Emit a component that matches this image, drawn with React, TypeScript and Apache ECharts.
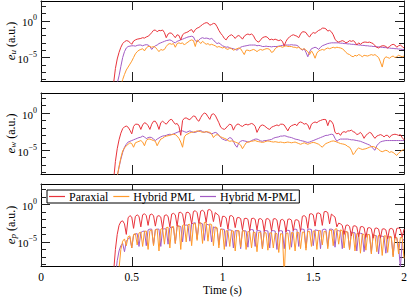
import React, { useEffect, useRef } from 'react';
import * as echarts from 'echarts';

// sampling grid (s)
const time: number[] = Array.from({ length: 161 }, (_, i) => Math.round((0.4 + i * 0.01) * 100) / 100);

// values are log10 of the error (a.u.)
const euParaxial = [
  -8.5, -6.5, -5.2, -4.3, -3.6, -3.1, -2.85, -2.7, -2.75, -2.95,
  -3.2, -2.75, -2.6, -2.5, -2.45, -2.4, -2.3, -2.35, -2.2, -2.1,
  -1.9, -1.6, -1.3, -1.25, -1.5, -1.3, -1.35, -1.25, -1.6, -2.3,
  -1.8, -1.65, -1.7, -2.0, -2.3, -1.9, -2.0, -2.6, -1.9, -1.7,
  -1.6, -1.5, -1.3, -1.2, -1.6, -1.2, -1.0, -0.9, -0.7, -0.5,
  -0.35, -0.25, -0.3, -0.6, -0.5, -0.35, -0.4, -0.8, -1.3, -1.7,
  -2.0, -2.4, -2.6, -2.2, -2.0, -1.9, -2.1, -2.4, -2.1, -2.0,
  -2.2, -2.5, -2.1, -1.9, -1.8, -1.9, -1.8, -2.0, -2.5, -2.8,
  -2.9, -2.6, -2.3, -2.2, -2.15, -2.3, -2.6, -2.5, -2.6, -2.5,
  -2.6, -2.7, -2.6, -2.8, -3.4, -2.8, -2.4, -2.2, -2.0, -1.9,
  -2.0, -2.1, -2.3, -1.8, -1.5, -1.5, -1.6, -2.0, -2.2, -1.8,
  -1.6, -1.7, -1.5, -1.3, -1.2, -1.0, -1.0, -1.1, -1.4, -1.3,
  -1.5, -1.9, -2.5, -2.8, -2.9, -2.8, -2.7, -2.8, -3.0, -2.9,
  -2.7, -2.8, -2.7, -2.9, -3.3, -3.0, -3.2, -3.0, -2.9, -2.9,
  -2.95, -2.9, -3.0, -3.1, -3.4, -3.6, -3.7, -3.5, -3.4, -3.4,
  -3.5, -3.7, -3.5, -3.3, -3.2, -3.3, -3.6, -3.4, -3.3, -3.5,
  -3.7,
];
const euPml = [
  -10, -10, -10, -9.5, -8.8, -8.0, -7.3, -6.7, -6.3, -5.9,
  -5.5, -5.0, -4.5, -4.2, -4.0, -3.9, -3.8, -4.1, -3.7, -3.5,
  -3.5, -3.6, -3.5, -3.6, -3.9, -4.2, -3.9, -4.0, -3.9, -3.5,
  -3.2, -3.1, -3.2, -3.1, -3.6, -3.1, -3.0, -3.1, -3.0, -3.3,
  -3.05, -2.9, -2.7, -2.6, -2.7, -3.5, -2.6, -2.8, -3.1, -2.8,
  -3.0, -3.2, -3.1, -3.3, -3.2, -3.3, -3.4, -3.6, -3.5, -3.6,
  -3.7, -3.6, -3.8, -3.9, -3.7, -3.8, -4.0, -3.9, -3.8, -3.7,
  -3.8, -4.2, -4.6, -4.0, -4.0, -4.1, -4.0, -3.9, -4.0, -4.2,
  -4.0, -3.9, -4.0, -3.9, -3.8, -3.8, -3.9, -4.3, -4.2, -3.8,
  -3.6, -3.5, -3.5, -3.6, -3.5, -3.4, -3.5, -3.5, -3.5, -3.6,
  -3.6, -3.7, -3.6, -3.8, -3.9, -3.8, -4.0, -4.2, -4.6, -4.1,
  -4.5, -5.1, -4.4, -4.1, -4.0, -3.9, -4.0, -3.8, -3.7, -3.8,
  -3.7, -3.6, -3.7, -3.6, -3.65, -3.7, -3.8, -4.0, -4.3, -4.5,
  -4.6, -4.8, -4.9, -4.7, -4.8, -4.6, -4.7, -4.9, -4.7, -4.75,
  -4.8, -4.7, -4.6, -4.7, -4.6, -4.8, -5.0, -5.6, -6.3, -5.2,
  -4.9, -5.0, -5.1, -4.9, -4.8, -5.0, -4.9, -4.7, -4.8, -4.9,
  -4.8,
];
const euMpml = [
  -9.5, -9, -8.5, -7.5, -6.2, -5.0, -4.2, -3.7, -3.5, -3.45,
  -3.4, -3.4, -3.45, -3.35, -3.3, -3.3, -3.4, -3.3, -3.25, -3.3,
  -3.5, -3.9, -3.6, -3.4, -3.3, -3.1, -3.0, -2.9, -2.8, -2.7,
  -2.65, -2.6, -2.7, -2.9, -3.0, -2.8, -2.7, -2.6, -2.5, -2.4,
  -2.3, -2.2, -2.15, -2.1, -2.2, -2.7, -2.9, -2.6, -2.4, -2.3,
  -2.4, -2.35, -2.4, -2.5, -2.4, -2.6, -2.9, -3.1, -3.0, -3.2,
  -3.4, -3.5, -3.6, -3.55, -3.7, -3.75, -3.8, -3.9, -4.0, -3.8,
  -3.6, -3.5, -3.45, -3.4, -3.35, -3.3, -3.3, -3.3, -3.3, -3.4,
  -3.35, -3.4, -3.5, -3.5, -3.45, -3.5, -3.5, -3.55, -3.5, -3.5,
  -3.5, -3.45, -3.4, -3.35, -3.3, -3.3, -3.3, -3.3, -3.25, -3.3,
  -3.3, -3.35, -3.5, -3.8, -4.0, -3.8, -4.3, -4.9, -4.2, -3.8,
  -3.7, -3.6, -3.7, -3.9, -3.6, -3.4, -3.3, -3.2, -3.1, -3.05,
  -3.0, -3.0, -3.0, -3.0, -3.0, -3.05, -3.05, -3.1, -3.1, -3.15,
  -3.15, -3.2, -3.2, -3.25, -3.25, -3.3, -3.3, -3.35, -3.35, -3.4,
  -3.4, -3.45, -3.45, -3.5, -3.5, -3.55, -3.55, -3.6, -3.6, -3.65,
  -3.65, -3.7, -3.7, -3.75, -3.75, -3.8, -3.8, -3.85, -3.85, -3.9,
  -3.9,
];

const ewParaxial = [
  -9, -6.5, -4.8, -3.6, -2.7, -2.1, -1.85, -1.75, -1.9, -2.3,
  -2.8, -1.8, -1.5, -1.5, -1.6, -2.2, -1.6, -1.3, -1.4, -1.7,
  -2.2, -1.5, -1.1, -1.1, -1.5, -2.2, -1.3, -1.1, -1.3, -1.5,
  -1.2, -0.9, -0.85, -1.2, -1.5, -1.4, -1.8, -3.0, -1.0, -0.7,
  -0.65, -0.8, -0.9, -0.6, -0.4, -0.45, -0.9, -1.1, -0.6, -0.2,
  0.0, -0.1, -0.5, -0.85, -0.2, -0.1, -0.3, -0.8, -1.3, -1.9,
  -2.1, -2.2, -2.0, -1.7, -1.5, -1.6, -2.3, -1.8, -1.5, -1.5,
  -1.7, -1.8, -1.6, -1.5, -1.6, -1.5, -1.4, -1.5, -1.8, -2.6,
  -2.1, -1.7, -1.6, -1.7, -1.9, -2.1, -2.2, -1.9, -1.8, -1.7,
  -1.6, -1.7, -1.5, -1.5, -1.6, -2.0, -2.4, -1.9, -1.7, -1.6,
  -1.5, -1.7, -1.3, -1.2, -1.3, -1.5, -1.4, -1.6, -2.2, -1.5,
  -1.3, -1.2, -1.3, -1.1, -1.0, -0.9, -0.85, -0.9, -1.7, -1.0,
  -1.1, -1.5, -2.6, -2.8, -2.7, -3.0, -2.6, -2.5, -2.6, -2.4,
  -2.4, -2.3, -2.5, -2.6, -2.9, -2.8, -2.6, -2.9, -3.4, -3.0,
  -2.8, -2.6, -2.7, -3.1, -3.4, -3.1, -3.0, -2.9, -3.0, -3.2,
  -3.0, -3.0, -3.3, -3.0, -2.9, -2.85, -2.9, -3.0, -2.9, -3.3,
  -3.6,
];
const ewPml = [
  -10, -9.5, -8.5, -7.2, -6.0, -5.1, -4.7, -4.4, -4.2, -4.0,
  -4.1, -4.6, -4.0, -3.9, -3.8, -3.7, -3.9, -4.4, -3.7, -3.5,
  -3.5, -3.6, -3.7, -3.8, -4.4, -3.9, -3.5, -3.4, -3.2, -3.1,
  -3.05, -3.0, -2.9, -2.85, -2.9, -3.1, -3.4, -3.9, -4.6, -3.2,
  -2.9, -2.8, -2.65, -2.6, -2.55, -2.5, -2.4, -2.45, -2.5, -2.6,
  -2.55, -2.5, -2.55, -2.6, -2.8, -3.3, -3.0, -2.9, -3.0, -3.2,
  -3.3, -3.4, -3.5, -3.7, -3.8, -3.75, -3.8, -3.9, -4.0, -4.1,
  -4.3, -4.8, -4.4, -4.0, -3.9, -3.85, -3.8, -3.75, -3.7, -3.8,
  -3.85, -3.9, -3.95, -3.9, -3.8, -3.75, -3.8, -3.85, -3.9, -3.85,
  -3.9, -3.95, -3.9, -3.95, -4.0, -3.95, -3.9, -3.95, -4.0, -3.95,
  -3.9, -4.0, -4.1, -4.2, -4.1, -4.0, -4.1, -4.2, -4.1, -4.0,
  -3.95, -4.0, -4.1, -4.2, -4.4, -4.6, -4.3, -4.1, -4.0, -3.9,
  -3.8, -3.75, -3.8, -3.9, -4.0, -4.1, -4.15, -4.2, -4.3, -4.5,
  -4.6, -5.0, -5.6, -5.3, -4.9, -4.7, -4.8, -4.9, -4.85, -4.8,
  -4.7, -4.6, -4.5, -4.5, -4.6, -4.7, -4.9, -5.1, -5.2, -5.1,
  -5.0, -5.1, -5.3, -5.2, -5.3, -5.5, -5.7, -5.4, -5.2, -5.0,
  -4.9,
];
const ewMpml = [
  -10, -9.5, -8.5, -7.3, -6.2, -5.3, -4.6, -4.2, -3.9, -3.8,
  -3.7, -3.6, -3.5, -3.4, -3.3, -3.25, -3.1, -3.2, -3.45, -3.3,
  -3.25, -3.3, -3.5, -3.7, -3.5, -3.35, -3.2, -3.1, -3.05, -3.0,
  -2.9, -2.85, -2.9, -2.8, -2.7, -2.6, -2.5, -2.4, -2.4, -2.5,
  -2.6, -2.5, -2.4, -2.5, -2.6, -2.6, -2.5, -2.4, -2.35, -2.5,
  -2.6, -2.5, -2.6, -2.7, -2.8, -2.7, -2.6, -2.7, -3.0, -3.3,
  -3.5, -3.6, -3.7, -3.5, -3.3, -3.4, -3.8, -4.3, -4.6, -4.0,
  -3.8, -3.7, -3.75, -3.8, -3.9, -3.85, -3.7, -3.6, -3.5, -3.5,
  -3.6, -3.75, -3.8, -3.7, -3.7, -3.65, -3.6, -3.55, -3.4, -3.3,
  -3.25, -3.2, -3.1, -3.1, -3.05, -3.1, -3.2, -3.25, -3.3, -3.4,
  -3.5, -3.55, -3.6, -3.7, -3.75, -3.8, -3.9, -3.95, -3.9, -3.8,
  -3.7, -3.6, -3.5, -3.4, -3.3, -3.2, -3.1, -3.0, -3.0, -2.9,
  -2.85, -2.9, -3.4, -3.8, -3.6, -3.5, -3.5, -3.5, -3.5, -3.5,
  -3.55, -3.6, -3.6, -3.65, -3.7, -3.75, -3.8, -3.9, -4.0, -4.1,
  -4.2, -4.3, -4.5, -4.8, -5.0, -4.4, -4.1, -3.9, -3.8, -3.75,
  -3.7, -3.7, -3.7, -3.7, -3.7, -3.7, -3.7, -3.7, -3.7, -3.7,
  -3.7,
];

const epParaxial = [
  -9, -6, -4, -2.8, -2.3, -2.2, -2.6, -4.0, -1.8, -1.5,
  -1.7, -3.2, -1.6, -1.4, -1.6, -3.0, -1.4, -1.25, -1.5, -2.8,
  -1.4, -1.3, -1.5, -2.9, -1.6, -1.5, -1.7, -3.2, -1.5, -1.4,
  -1.6, -3.0, -1.3, -1.2, -1.4, -2.9, -1.1, -1.05, -1.3, -2.7,
  -1.1, -1.05, -1.25, -2.6, -0.95, -0.85, -1.1, -2.5, -0.9, -0.8,
  -1.0, -2.4, -0.75, -0.7, -0.9, -2.3, -1.1, -1.3, -1.5, -3.0,
  -1.6, -1.6, -1.8, -3.3, -1.55, -1.5, -1.7, -3.1, -1.8, -1.75,
  -1.9, -3.4, -1.9, -1.85, -2.0, -3.5, -1.9, -1.85, -2.0, -3.4,
  -1.95, -1.9, -2.1, -3.6, -1.95, -1.9, -2.1, -3.5, -1.95, -1.9,
  -2.1, -3.6, -2.1, -2.0, -2.2, -3.7, -2.0, -1.95, -2.1, -3.5,
  -2.1, -2.05, -2.2, -3.6, -1.6, -1.5, -1.7, -3.2, -1.3, -1.25,
  -1.4, -2.9, -1.2, -1.15, -1.3, -2.8, -1.0, -0.95, -1.1, -2.6,
  -1.3, -1.5, -1.7, -3.0, -2.5, -2.6, -2.8, -4.0, -2.8, -2.75,
  -2.95, -4.2, -2.9, -2.85, -3.0, -4.3, -3.0, -2.95, -3.1, -4.4,
  -3.15, -3.1, -3.25, -4.5, -3.2, -3.15, -3.3, -4.5, -3.3, -3.25,
  -3.4, -4.6, -3.3, -3.2, -3.35, -4.5, -3.2, -3.15, -3.3, -4.4,
  -3.3,
];
const epPml = [
  -10, -10, -10, -8.5, -6.0, -4.9, -4.6, -5.5, -4.3, -4.2,
  -5.8, -4.0, -3.9, -5.4, -3.8, -3.7, -5.6, -3.6, -3.55, -6.0,
  -3.5, -3.4, -5.5, -3.4, -3.3, -6.2, -3.3, -3.2, -5.3, -3.1,
  -3.05, -5.8, -3.0, -2.95, -5.2, -2.9, -2.85, -6.0, -2.8, -2.7,
  -5.0, -2.7, -2.65, -5.5, -2.6, -2.55, -4.8, -2.5, -2.45, -5.2,
  -2.4, -2.45, -4.9, -2.6, -2.7, -5.5, -3.0, -3.1, -5.8, -3.3,
  -3.35, -6.0, -3.5, -3.6, -5.6, -3.5, -3.55, -6.2, -3.5, -3.5,
  -5.7, -3.5, -3.55, -6.0, -3.6, -3.7, -5.8, -3.7, -3.75, -6.3,
  -3.7, -3.75, -5.9, -3.75, -3.8, -6.1, -3.8, -3.8, -5.8, -3.85,
  -3.9, -6.4, -3.9, -3.95, -9.5, -3.9, -3.8, -6.0, -3.75, -3.8,
  -6.2, -3.7, -3.75, -5.9, -3.7, -3.7, -6.1, -3.6, -3.6, -5.6,
  -3.55, -3.55, -6.0, -3.5, -3.5, -5.4, -3.6, -3.65, -5.9, -3.5,
  -3.4, -5.5, -3.3, -3.25, -5.3, -3.4, -3.5, -5.8, -3.6, -3.7,
  -6.0, -3.8, -3.85, -6.2, -3.9, -3.9, -6.5, -3.95, -4.0, -6.1,
  -4.0, -4.05, -6.6, -4.05, -4.1, -6.3, -4.1, -4.15, -6.8, -4.2,
  -4.2, -6.4, -4.25, -4.3, -7.0, -4.35, -4.4, -6.6, -4.4, -4.45,
  -7.2,
];
const epMpml = [
  -10, -9.5, -7.5, -6.2, -5.5, -5.2, -6.3, -4.9, -4.6, -4.4,
  -5.8, -4.1, -3.95, -3.9, -5.6, -3.75, -3.6, -3.55, -5.5, -3.4,
  -3.3, -3.3, -5.4, -3.35, -3.3, -3.3, -5.6, -3.3, -3.25, -3.3,
  -5.3, -3.1, -3.05, -3.1, -5.2, -2.95, -2.9, -2.95, -5.0, -2.8,
  -2.75, -2.8, -4.9, -2.6, -2.5, -2.45, -4.6, -2.5, -2.5, -2.6,
  -4.8, -2.65, -2.7, -2.8, -5.0, -3.0, -3.1, -3.2, -5.4, -3.3,
  -3.3, -3.35, -5.6, -3.4, -3.4, -3.45, -5.8, -3.5, -3.5, -3.55,
  -5.9, -3.5, -3.5, -3.55, -5.7, -3.4, -3.35, -3.4, -5.6, -3.45,
  -3.5, -3.55, -5.9, -3.5, -3.5, -3.55, -5.8, -3.5, -3.5, -3.55,
  -6.0, -3.55, -3.5, -3.55, -5.9, -3.5, -3.45, -3.5, -5.7, -3.35,
  -3.3, -3.35, -5.6, -3.3, -3.3, -3.35, -5.8, -3.3, -3.3, -3.35,
  -5.5, -3.4, -3.45, -3.5, -5.9, -3.4, -3.3, -3.35, -5.6, -3.3,
  -3.3, -3.4, -5.7, -3.5, -3.5, -3.6, -5.9, -3.6, -3.65, -3.7,
  -6.0, -3.7, -3.75, -3.8, -6.2, -3.8, -3.85, -3.9, -6.3, -3.95,
  -4.0, -4.05, -6.4, -4.1, -4.15, -4.2, -6.6, -4.2, -4.25, -4.3,
  -6.5, -4.3, -4.35, -4.4, -6.8, -4.4, -4.45, -5.5, -8.5, -5.0,
  -4.6,
];

const seriesNames = ['Paraxial', 'Hybrid PML', 'Hybrid M-PML'];
const seriesColors = ['#e8333b', '#ff992b', '#a25bc4'];
const panelLabels = ['u', 'w', 'p'];
const panelData = [
  [euParaxial, euPml, euMpml],
  [ewParaxial, ewPml, ewMpml],
  [epParaxial, epPml, epMpml],
];
const xTicks = { min: 0, max: 2, interval: 0.5 };
const yMinExp = -8.2;
const yMaxExp = 2.7;
const yMinorTicks = [-8, -7, -6, -5, -4, -3, -2, -1, 0, 1, 2];
const yMajorTicks = [-5, 0];

const FONT = '"Liberation Serif", "DejaVu Serif", serif';

export default function App() {
  const ref = useRef<HTMLDivElement>(null);
  useEffect(() => {
    if (!ref.current) return;
    const chart = echarts.init(ref.current, null, { renderer: 'svg' });
    const gridPos = [
      { top: 1, height: 80 },
      { top: 93, height: 81 },
      { top: 184, height: 82 },
    ];
    const grid = gridPos.map((g) => ({
      left: 41, width: 363, top: g.top, height: g.height,
      containLabel: false, outerBoundsMode: 'none',
    }));
    const axisLine = { show: true, onZero: false, lineStyle: { color: '#000', width: 1 } };
    const tickStyle = { color: '#222', width: 1 };
    const xAxis: any[] = [];
    const yAxis: any[] = [];
    const series: any[] = [];
    panelData.forEach((set, i) => {
      const last = i === 2;
      xAxis.push({
        type: 'value', gridIndex: i, position: 'bottom', ...xTicks,
        axisLine, axisTick: { show: true, inside: true, length: 9, lineStyle: tickStyle },
        axisLabel: { show: last, color: '#000', fontFamily: FONT, fontSize: 11.5, margin: 5 },
        splitLine: { show: false },
        name: last ? 'Time (s)' : '', nameLocation: 'middle', nameGap: 18, nameMoveOverlap: false,
        nameTextStyle: { color: '#000', fontFamily: FONT, fontSize: 11.5, verticalAlign: 'top' },
      });
      xAxis.push({
        type: 'value', gridIndex: i, position: 'top', ...xTicks,
        axisLine, axisTick: { show: true, inside: true, length: 9, lineStyle: tickStyle },
        axisLabel: { show: false }, splitLine: { show: false },
      });
      const yBase = { type: 'value', gridIndex: i, min: yMinExp, max: yMaxExp, splitLine: { show: false } };
      yAxis.push({
        ...yBase, position: 'left', axisLine,
        axisTick: { show: true, inside: true, length: 5, lineStyle: tickStyle, customValues: yMinorTicks },
        axisLabel: {
          show: true, customValues: yMajorTicks, margin: 4, color: '#000',
          formatter: (v: number) => '{b|10}{s|' + (v < 0 ? '\u2212' + Math.abs(v) : String(v)) + '}',
          rich: {
            b: { fontFamily: FONT, fontSize: 11, color: '#000', lineHeight: 14, verticalAlign: 'bottom' },
            s: { fontFamily: FONT, fontSize: 8, color: '#000', lineHeight: 9, verticalAlign: 'top' },
          },
        },
        name: '{e|e}{sub|' + panelLabels[i] + '}{n| (a.u.)}',
        nameLocation: 'middle', nameGap: 24, nameRotate: 90, nameMoveOverlap: false,
        nameTextStyle: {
          rich: {
            e: { fontFamily: FONT, fontSize: 13, fontStyle: 'italic', color: '#000', lineHeight: 14, verticalAlign: 'bottom' },
            sub: { fontFamily: FONT, fontSize: 9, fontStyle: 'italic', color: '#000', lineHeight: 9, verticalAlign: 'bottom' },
            n: { fontFamily: FONT, fontSize: 12, color: '#000', lineHeight: 14, verticalAlign: 'bottom' },
          },
        },
      });
      yAxis.push({
        ...yBase, position: 'left', axisLine: { show: false, onZero: false },
        axisTick: { show: true, inside: true, length: 9, lineStyle: tickStyle, customValues: yMajorTicks },
        axisLabel: { show: false },
      });
      yAxis.push({
        ...yBase, position: 'right', axisLine,
        axisTick: { show: true, inside: true, length: 5, lineStyle: tickStyle, customValues: yMinorTicks },
        axisLabel: { show: false },
      });
      yAxis.push({
        ...yBase, position: 'right', axisLine: { show: false, onZero: false },
        axisTick: { show: true, inside: true, length: 9, lineStyle: tickStyle, customValues: yMajorTicks },
        axisLabel: { show: false },
      });
      set.forEach((vals, k) => {
        series.push({
          type: 'line', name: seriesNames[k], xAxisIndex: i * 2, yAxisIndex: i * 4,
          data: vals.map((v, j) => [time[j], v]),
          showSymbol: false, symbol: 'none', smooth: false, clip: true,
          color: seriesColors[k],
          lineStyle: { color: seriesColors[k], width: 1 },
          z: 3 - k,
        });
      });
    });
    chart.setOption({
      animation: false,
      backgroundColor: '#fff',
      grid, xAxis, yAxis, series,
      legend: {
        data: seriesNames, left: 47, top: 190, orient: 'horizontal',
        icon: 'rect',
        borderColor: '#000', borderWidth: 1, borderRadius: 0, backgroundColor: '#fff',
        padding: [0, 3, 0, 2], itemGap: 5, itemWidth: 16, itemHeight: 1.2,
        textStyle: { fontFamily: FONT, fontSize: 12, color: '#000', padding: [0, 0, 0, -1], lineHeight: 13 },
      },
    });
    return () => chart.dispose();
  }, []);
  return <div ref={ref} style={{ position: 'absolute', left: 0, top: 0, width: 407, height: 297 }} />;
}
